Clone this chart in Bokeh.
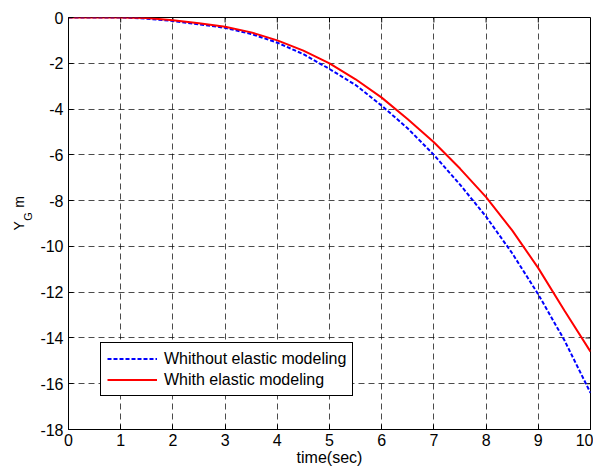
import math
from bokeh.plotting import figure
from bokeh.layouts import row
from bokeh.models import Range1d, FixedTicker, Legend, LegendItem
from bokeh.core.properties import value
from bokeh.embed import file_html
from bokeh.resources import INLINE

time = [0, 0.5, 1, 1.5, 2, 2.5, 3, 3.5, 4, 4.5, 5, 5.5, 6, 6.5, 7, 7.5, 8, 8.5, 9, 9.5, 10]
y_without = [0, 0, 0, -0.05, -0.15, -0.3, -0.45, -0.72, -1.1, -1.6, -2.25, -2.95, -3.85, -4.85,
             -6.0, -7.3, -8.7, -10.3, -12.1, -14.1, -16.4]
y_with = [0, 0, 0, -0.02, -0.12, -0.25, -0.4, -0.65, -1.0, -1.45, -2.0, -2.7, -3.5, -4.45,
          -5.45, -6.6, -7.85, -9.3, -10.95, -12.8, -14.6]
x_ticks = list(range(0, 11))
y_ticks = list(range(-18, 1, 2))
legend_labels = ["Whithout elastic modeling", "Whith elastic modeling"]
ylabel_parts = ["Y", "G", "m"]

FONT = "Liberation Sans"
X0, X1, Y0, Y1 = 0, 10, -18, 0
H = 470
LW = 33                      # width of the strip holding the y-axis label
W = 593 - LW
BL, BR, BT, BB = 68 - LW, 3, 17, 41
FW, FH = W - BL - BR, H - BT - BB

# ---- strip with the rotated "Y_G m" label ----
lab = figure(width=LW, height=H, output_backend="svg", toolbar_location=None,
             x_range=Range1d(0, LW), y_range=Range1d(0, H),
             x_axis_type=None, y_axis_type=None,
             min_border_left=0, min_border_right=0, min_border_top=0, min_border_bottom=0)
lab.outline_line_color = None
lab.xgrid.visible = False
lab.ygrid.visible = False
lab.background_fill_color = "white"
lab.border_fill_color = "white"
# anchor positions (px from left / px from bottom), font sizes
lab.text(x=[18, 18, 27], y=[H - 243, H - 217, H - 232],
         text=[ylabel_parts[0], ylabel_parts[2], ylabel_parts[1]],
         angle=math.pi / 2, text_font=value(FONT),
         text_font_size=["14px", "14px", "11px"],
         text_baseline="alphabetic", text_align="left", text_color="black")

# ---- main plot ----
p = figure(width=W, height=H, output_backend="svg", toolbar_location=None,
           x_range=Range1d(X0, X1), y_range=Range1d(Y0, Y1),
           min_border_left=BL, min_border_right=BR, min_border_top=BT, min_border_bottom=BB)
p.background_fill_color = "white"
p.border_fill_color = "white"
p.outline_line_color = "black"
p.outline_line_width = 1
p.outline_line_alpha = 1

for ax in (p.xaxis[0], p.yaxis[0]):
    ax.major_tick_in = 5
    ax.major_tick_out = 0
    ax.minor_tick_line_color = None
    ax.axis_line_color = "black"
    ax.major_tick_line_color = "black"
    ax.major_label_text_font = FONT
    ax.major_label_text_font_size = "16px"
    ax.major_label_text_color = "black"

p.xaxis[0].ticker = FixedTicker(ticks=x_ticks)
p.yaxis[0].ticker = FixedTicker(ticks=y_ticks)
p.xaxis[0].major_label_overrides = {t: str(t) for t in x_ticks}
p.yaxis[0].major_label_overrides = {t: str(t) for t in y_ticks}  # ASCII hyphen minus
p.xaxis[0].major_label_standoff = 4
p.yaxis[0].major_label_standoff = 5
p.xaxis[0].axis_label = "time(sec)"
p.xaxis[0].axis_label_text_font = FONT
p.xaxis[0].axis_label_text_font_size = "16px"
p.xaxis[0].axis_label_text_font_style = "normal"
p.xaxis[0].axis_label_standoff = 0
p.xaxis[0].axis_label_text_color = "black"

p.xgrid[0].ticker = FixedTicker(ticks=x_ticks)
p.ygrid[0].ticker = FixedTicker(ticks=y_ticks)
for g in (p.xgrid[0], p.ygrid[0]):
    g.grid_line_color = "black"
    g.grid_line_alpha = 0.7
    g.grid_line_dash = "6 4"
    g.grid_line_width = 1

# inward tick marks on top and right edges (box style), derived from the tick lists
tx = 5 * (X1 - X0) / FW
ty = 5 * (Y1 - Y0) / FH
p.segment(x0=x_ticks, y0=[Y1] * len(x_ticks), x1=x_ticks, y1=[Y1 - ty] * len(x_ticks),
          line_color="black", line_width=1)
p.segment(x0=[X1] * len(y_ticks), y0=y_ticks, x1=[X1 - tx] * len(y_ticks), y1=y_ticks,
          line_color="black", line_width=1)

r1 = p.line(time, y_without, line_color="blue", line_width=2, line_dash="4 2")
r2 = p.line(time, y_with, line_color="red", line_width=2)

legend = Legend(items=[LegendItem(label=legend_labels[0], renderers=[r1]),
                       LegendItem(label=legend_labels[1], renderers=[r2])],
                location=(32, 33), label_text_font=FONT, label_text_font_size="16px",
                label_text_color="black", border_line_color="black", border_line_width=1,
                border_line_alpha=1, background_fill_alpha=1, glyph_width=50,
                label_standoff=7, padding=6, spacing=2, label_height=19, glyph_height=19,
                margin=0)
p.add_layout(legend)

layout = row(lab, p, spacing=0)
open("out.html", "w").write(file_html(layout, INLINE))
